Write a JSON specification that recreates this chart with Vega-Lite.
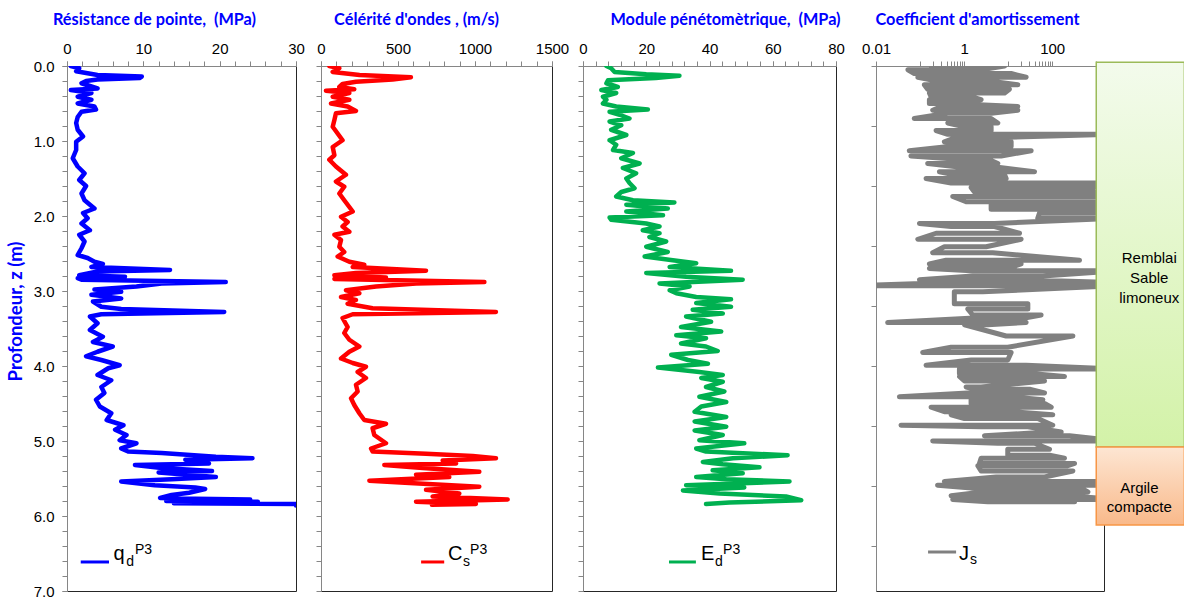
{
"$schema": "https://vega.github.io/schema/vega-lite/v6.json",
"background": "white",
"padding": {"left": 5, "top": 10, "right": 0, "bottom": 0},
"autosize": {"type": "pad"},
"config": {
  "view": {"stroke": "#262626", "strokeWidth": 1},
  "axis": {"grid": false, "domainColor": "#868686", "tickColor": "#868686", "tickSize": 5,
    "labelFont": "Liberation Sans", "labelFontSize": 15, "labelColor": "#000000",
    "labelOverlap": false, "labelFlush": false, "labelPadding": 8,
    "titleFont": "Lato", "titleFontWeight": "bold", "titleFontSize": 16.3, "titleColor": "#0000FF"}
},
"datasets": {
  "qd": [{"z":0,"v":0.5},{"z":0.03,"v":1.6},{"z":0.07,"v":1.2},{"z":0.12,"v":4},{"z":0.14,"v":9.8},{"z":0.16,"v":9.5},{"z":0.18,"v":4},{"z":0.2,"v":2.5},{"z":0.23,"v":1.9},{"z":0.3,"v":4},{"z":0.32,"v":0.5},{"z":0.36,"v":3.2},{"z":0.41,"v":1.4},{"z":0.45,"v":3.2},{"z":0.5,"v":1.4},{"z":0.54,"v":3.6},{"z":0.58,"v":3.8},{"z":0.61,"v":1.9},{"z":0.68,"v":1.4},{"z":0.76,"v":1.2},{"z":0.85,"v":1.4},{"z":0.94,"v":2.1},{"z":1.01,"v":1.2},{"z":1.12,"v":1.2},{"z":1.23,"v":0.75},{"z":1.34,"v":1.4},{"z":1.43,"v":2.3},{"z":1.52,"v":1.6},{"z":1.6,"v":2.5},{"z":1.7,"v":1.9},{"z":1.79,"v":2.3},{"z":1.9,"v":3.6},{"z":1.96,"v":2.1},{"z":2.03,"v":2.7},{"z":2.1,"v":1.9},{"z":2.19,"v":3},{"z":2.25,"v":1.6},{"z":2.34,"v":2.3},{"z":2.43,"v":1.9},{"z":2.52,"v":1.4},{"z":2.56,"v":2.7},{"z":2.61,"v":3.6},{"z":2.64,"v":4.7},{"z":2.68,"v":3.2},{"z":2.72,"v":13.5},{"z":2.74,"v":4},{"z":2.79,"v":1.6},{"z":2.81,"v":7.6},{"z":2.83,"v":1.4},{"z":2.85,"v":1.9},{"z":2.88,"v":20.8},{"z":2.9,"v":12.4},{"z":2.94,"v":9.1},{"z":2.98,"v":3.6},{"z":3.01,"v":7.1},{"z":3.05,"v":3.2},{"z":3.1,"v":7.1},{"z":3.14,"v":3.4},{"z":3.21,"v":4.5},{"z":3.24,"v":7.1},{"z":3.28,"v":20.6},{"z":3.31,"v":4.5},{"z":3.34,"v":3},{"z":3.43,"v":4},{"z":3.52,"v":3},{"z":3.61,"v":4.7},{"z":3.68,"v":3.4},{"z":3.74,"v":6},{"z":3.81,"v":4},{"z":3.87,"v":2.5},{"z":3.92,"v":4.5},{"z":3.99,"v":6.9},{"z":4.03,"v":5.4},{"z":4.12,"v":4},{"z":4.19,"v":5.8},{"z":4.28,"v":4.5},{"z":4.36,"v":4.9},{"z":4.45,"v":3.8},{"z":4.54,"v":4.3},{"z":4.63,"v":5.8},{"z":4.72,"v":5.2},{"z":4.79,"v":7.4},{"z":4.85,"v":6.3},{"z":4.92,"v":7.8},{"z":4.99,"v":6.9},{"z":5.03,"v":9.1},{"z":5.1,"v":7.1},{"z":5.14,"v":8},{"z":5.16,"v":12.4},{"z":5.21,"v":19.5},{"z":5.23,"v":24.3},{"z":5.25,"v":15.5},{"z":5.3,"v":18.6},{"z":5.32,"v":8.9},{"z":5.36,"v":12.4},{"z":5.4,"v":19},{"z":5.42,"v":12},{"z":5.48,"v":19.5},{"z":5.51,"v":13.7},{"z":5.54,"v":7.1},{"z":5.59,"v":11.5},{"z":5.62,"v":16.8},{"z":5.64,"v":18.1},{"z":5.69,"v":16},{"z":5.72,"v":13.7},{"z":5.76,"v":12.2},{"z":5.77,"v":16.8},{"z":5.78,"v":24},{"z":5.8,"v":13},{"z":5.81,"v":25},{"z":5.83,"v":14},{"z":5.84,"v":30},{"z":5.86,"v":30}],
  "cs": [{"z":0,"v":54},{"z":0.03,"v":119},{"z":0.08,"v":76},{"z":0.12,"v":250},{"z":0.15,"v":584},{"z":0.18,"v":465},{"z":0.21,"v":227},{"z":0.24,"v":140},{"z":0.28,"v":119},{"z":0.31,"v":216},{"z":0.33,"v":32},{"z":0.36,"v":184},{"z":0.41,"v":76},{"z":0.45,"v":184},{"z":0.5,"v":65},{"z":0.54,"v":173},{"z":0.6,"v":227},{"z":0.63,"v":97},{"z":0.72,"v":87},{"z":0.81,"v":76},{"z":0.9,"v":108},{"z":0.99,"v":140},{"z":1.08,"v":76},{"z":1.19,"v":87},{"z":1.25,"v":54},{"z":1.34,"v":97},{"z":1.45,"v":162},{"z":1.54,"v":97},{"z":1.61,"v":151},{"z":1.7,"v":119},{"z":1.79,"v":151},{"z":1.88,"v":184},{"z":1.94,"v":206},{"z":2.01,"v":130},{"z":2.08,"v":173},{"z":2.14,"v":140},{"z":2.21,"v":184},{"z":2.25,"v":87},{"z":2.32,"v":130},{"z":2.41,"v":119},{"z":2.48,"v":151},{"z":2.54,"v":108},{"z":2.61,"v":184},{"z":2.65,"v":281},{"z":2.68,"v":206},{"z":2.73,"v":682},{"z":2.76,"v":227},{"z":2.79,"v":87},{"z":2.82,"v":422},{"z":2.84,"v":87},{"z":2.88,"v":1061},{"z":2.9,"v":617},{"z":2.94,"v":357},{"z":2.99,"v":162},{"z":3.03,"v":249},{"z":3.08,"v":130},{"z":3.12,"v":227},{"z":3.17,"v":173},{"z":3.23,"v":335},{"z":3.28,"v":1136},{"z":3.31,"v":206},{"z":3.36,"v":140},{"z":3.48,"v":173},{"z":3.56,"v":151},{"z":3.65,"v":184},{"z":3.74,"v":249},{"z":3.81,"v":184},{"z":3.9,"v":130},{"z":3.96,"v":206},{"z":4.01,"v":292},{"z":4.08,"v":238},{"z":4.16,"v":292},{"z":4.25,"v":227},{"z":4.34,"v":238},{"z":4.43,"v":195},{"z":4.52,"v":216},{"z":4.63,"v":249},{"z":4.72,"v":281},{"z":4.77,"v":422},{"z":4.83,"v":335},{"z":4.92,"v":346},{"z":5.03,"v":422},{"z":5.1,"v":325},{"z":5.14,"v":335},{"z":5.17,"v":682},{"z":5.2,"v":985},{"z":5.23,"v":1136},{"z":5.26,"v":790},{"z":5.3,"v":877},{"z":5.32,"v":411},{"z":5.36,"v":660},{"z":5.41,"v":1028},{"z":5.45,"v":617},{"z":5.48,"v":833},{"z":5.53,"v":314},{"z":5.56,"v":574},{"z":5.61,"v":1028},{"z":5.65,"v":682},{"z":5.7,"v":898},{"z":5.74,"v":725},{"z":5.78,"v":1212},{"z":5.81,"v":617},{"z":5.84,"v":1006},{"z":5.85,"v":720}],
  "ed": [{"z":0,"v":7.4},{"z":0.03,"v":8.9},{"z":0.08,"v":10},{"z":0.11,"v":20},{"z":0.13,"v":30.5},{"z":0.16,"v":23},{"z":0.19,"v":7.9},{"z":0.23,"v":7.4},{"z":0.28,"v":11},{"z":0.32,"v":5.8},{"z":0.36,"v":10.5},{"z":0.41,"v":6.3},{"z":0.45,"v":7.4},{"z":0.5,"v":6.3},{"z":0.54,"v":10.5},{"z":0.58,"v":20.5},{"z":0.61,"v":8.4},{"z":0.65,"v":11.6},{"z":0.7,"v":14.7},{"z":0.74,"v":8.4},{"z":0.79,"v":12.1},{"z":0.85,"v":8.9},{"z":0.92,"v":13.7},{"z":0.99,"v":8.4},{"z":1.05,"v":10.5},{"z":1.12,"v":9.5},{"z":1.16,"v":15.8},{"z":1.23,"v":12.1},{"z":1.3,"v":17.9},{"z":1.36,"v":12.6},{"z":1.43,"v":16.8},{"z":1.5,"v":13.7},{"z":1.56,"v":14.7},{"z":1.63,"v":16.3},{"z":1.68,"v":12.1},{"z":1.74,"v":10.5},{"z":1.79,"v":15.8},{"z":1.82,"v":28.9},{"z":1.85,"v":13.7},{"z":1.9,"v":26.8},{"z":1.94,"v":13.7},{"z":1.99,"v":25.3},{"z":2.02,"v":8.4},{"z":2.05,"v":8.9},{"z":2.1,"v":20},{"z":2.14,"v":24.2},{"z":2.19,"v":18.9},{"z":2.23,"v":24.2},{"z":2.28,"v":21},{"z":2.34,"v":26.3},{"z":2.41,"v":20},{"z":2.48,"v":26.8},{"z":2.54,"v":19.5},{"z":2.59,"v":28.4},{"z":2.63,"v":35.8},{"z":2.68,"v":27.4},{"z":2.73,"v":46.8},{"z":2.76,"v":20},{"z":2.81,"v":32.6},{"z":2.85,"v":50.5},{"z":2.9,"v":24.2},{"z":2.94,"v":33.7},{"z":2.99,"v":27.4},{"z":3.03,"v":29.5},{"z":3.08,"v":35.8},{"z":3.11,"v":46.8},{"z":3.16,"v":35.8},{"z":3.21,"v":46.8},{"z":3.25,"v":34.7},{"z":3.3,"v":44.2},{"z":3.34,"v":32.6},{"z":3.41,"v":40.5},{"z":3.48,"v":31},{"z":3.54,"v":43.7},{"z":3.59,"v":29.5},{"z":3.63,"v":38.9},{"z":3.7,"v":31},{"z":3.74,"v":38.9},{"z":3.8,"v":42.6},{"z":3.85,"v":27.9},{"z":3.92,"v":33.2},{"z":3.97,"v":39.5},{"z":4.02,"v":23.7},{"z":4.08,"v":36.8},{"z":4.12,"v":44.2},{"z":4.16,"v":37.4},{"z":4.21,"v":44.2},{"z":4.28,"v":38.9},{"z":4.34,"v":44.7},{"z":4.41,"v":36.8},{"z":4.48,"v":45.3},{"z":4.54,"v":37.4},{"z":4.61,"v":35.3},{"z":4.68,"v":45.3},{"z":4.74,"v":35.3},{"z":4.81,"v":45.3},{"z":4.86,"v":35.3},{"z":4.92,"v":44.2},{"z":4.99,"v":36.8},{"z":5.03,"v":51},{"z":5.1,"v":35.8},{"z":5.14,"v":38.9},{"z":5.19,"v":64.7},{"z":5.23,"v":47.4},{"z":5.28,"v":37.9},{"z":5.31,"v":44.2},{"z":5.35,"v":55.8},{"z":5.39,"v":41},{"z":5.43,"v":50.5},{"z":5.48,"v":35.8},{"z":5.51,"v":45.3},{"z":5.54,"v":65.3},{"z":5.59,"v":32.6},{"z":5.62,"v":51},{"z":5.66,"v":31.6},{"z":5.7,"v":43.2},{"z":5.74,"v":64.2},{"z":5.79,"v":69},{"z":5.82,"v":46.3},{"z":5.84,"v":38.9}],
  "js": [{"z":0,"v":0.18},{"z":0,"v":8.3},{"z":0.05,"v":2.43},{"z":0.05,"v":0.053},{"z":0.1,"v":0.074},{"z":0.1,"v":11.7},{"z":0.15,"v":25.6},{"z":0.15,"v":0.089},{"z":0.21,"v":0.3},{"z":0.21,"v":4.89},{"z":0.25,"v":16.6},{"z":0.25,"v":0.125},{"z":0.31,"v":0.149},{"z":0.31,"v":10.7},{"z":0.36,"v":8.3},{"z":0.36,"v":0.163},{"z":0.41,"v":0.178},{"z":0.41,"v":1.44},{"z":0.45,"v":2.43},{"z":0.45,"v":0.163},{"z":0.5,"v":0.163},{"z":0.5,"v":0.507},{"z":0.54,"v":16.6},{"z":0.54,"v":0.3},{"z":0.59,"v":0.194},{"z":0.59,"v":16.6},{"z":0.63,"v":4.11},{"z":0.63,"v":0.426},{"z":0.7,"v":0.074},{"z":0.7,"v":4.11},{"z":0.76,"v":5.82},{"z":0.76,"v":0.426},{"z":0.81,"v":1.02},{"z":0.81,"v":4.11},{"z":0.86,"v":4.11},{"z":0.86,"v":0.231},{"z":0.91,"v":0.426},{"z":0.91,"v":3000},{"z":0.96,"v":2.05},{"z":0.96,"v":0.6},{"z":1.01,"v":0.357},{"z":1.01,"v":11.7},{"z":1.07,"v":11.7},{"z":1.07,"v":0.507},{"z":1.13,"v":0.057},{"z":1.13,"v":33.3},{"z":1.2,"v":6.93},{"z":1.2,"v":0.062},{"z":1.24,"v":0.6},{"z":1.24,"v":3.45},{"z":1.3,"v":5.82},{"z":1.3,"v":0.149},{"z":1.35,"v":0.855},{"z":1.35,"v":5.82},{"z":1.41,"v":39.7},{"z":1.41,"v":0.275},{"z":1.45,"v":0.6},{"z":1.45,"v":8.3},{"z":1.5,"v":9},{"z":1.5,"v":0.137},{"z":1.56,"v":0.507},{"z":1.56,"v":3000},{"z":1.62,"v":770},{"z":1.62,"v":1.44},{"z":1.68,"v":1.72},{"z":1.68,"v":3000},{"z":1.74,"v":3000},{"z":1.74,"v":0.552},{"z":1.81,"v":1.11},{"z":1.81,"v":3000},{"z":1.85,"v":916},{"z":1.85,"v":4.11},{"z":1.91,"v":4.11},{"z":1.91,"v":3000},{"z":1.96,"v":3000},{"z":1.96,"v":51.5},{"z":2.03,"v":47},{"z":2.03,"v":3000},{"z":2.1,"v":4.89},{"z":2.1,"v":0.097},{"z":2.14,"v":0.507},{"z":2.14,"v":4.89},{"z":2.23,"v":18.1},{"z":2.23,"v":0.231},{"z":2.31,"v":0.089},{"z":2.31,"v":19.7},{"z":2.41,"v":3.16},{"z":2.41,"v":0.357},{"z":2.49,"v":0.194},{"z":2.49,"v":4.48},{"z":2.59,"v":417},{"z":2.59,"v":0.39},{"z":2.64,"v":0.163},{"z":2.64,"v":19.7},{"z":2.7,"v":9.8},{"z":2.7,"v":0.163},{"z":2.73,"v":1.44},{"z":2.73,"v":3000},{"z":2.8,"v":61.4},{"z":2.8,"v":1.57},{"z":2.85,"v":0.097},{"z":2.85,"v":18.1},{"z":2.89,"v":3000},{"z":2.89,"v":0.357},{"z":2.93,"v":0.003},{"z":2.93,"v":3000},{"z":3.01,"v":2.66},{"z":3.01,"v":0.6},{"z":3.17,"v":0.6},{"z":3.17,"v":28},{"z":3.24,"v":28},{"z":3.24,"v":1.21},{"z":3.32,"v":1.57},{"z":3.32,"v":56},{"z":3.36,"v":23.6},{"z":3.36,"v":1.72},{"z":3.42,"v":0.0184},{"z":3.42,"v":25.6},{"z":3.45,"v":3.45},{"z":3.45,"v":1.02},{"z":3.6,"v":9},{"z":3.6,"v":295},{"z":3.75,"v":9.8},{"z":3.75,"v":0.507},{"z":3.82,"v":0.115},{"z":3.82,"v":11.7},{"z":3.92,"v":9.8},{"z":3.92,"v":1.44},{"z":3.99,"v":0.137},{"z":3.99,"v":25.6},{"z":4.04,"v":3000},{"z":4.04,"v":0.783},{"z":4.1,"v":0.783},{"z":4.1,"v":33.3},{"z":4.14,"v":190},{"z":4.14,"v":0.783},{"z":4.2,"v":1.02},{"z":4.2,"v":67},{"z":4.28,"v":2.43},{"z":4.28,"v":1.11},{"z":4.31,"v":1.87},{"z":4.31,"v":30.5},{"z":4.36,"v":67},{"z":4.36,"v":1.21},{"z":4.41,"v":0.034},{"z":4.41,"v":10.7},{"z":4.45,"v":61.4},{"z":4.45,"v":1.44},{"z":4.5,"v":1.44},{"z":4.5,"v":67},{"z":4.55,"v":95},{"z":4.55,"v":0.178},{"z":4.61,"v":0.357},{"z":4.61,"v":11.7},{"z":4.65,"v":103},{"z":4.65,"v":0.507},{"z":4.7,"v":1.02},{"z":4.7,"v":47},{"z":4.79,"v":103},{"z":4.79,"v":0.037},{"z":4.81,"v":2.43},{"z":4.81,"v":28},{"z":4.88,"v":160},{"z":4.88,"v":80},{"z":4.93,"v":2.9},{"z":4.93,"v":248},{"z":5,"v":3000},{"z":5,"v":0.194},{"z":5.03,"v":5.82},{"z":5.03,"v":39.7},{"z":5.11,"v":86.8},{"z":5.11,"v":9.8},{"z":5.19,"v":9.8},{"z":5.19,"v":86.8},{"z":5.23,"v":190},{"z":5.23,"v":2.43},{"z":5.3,"v":2.23},{"z":5.3,"v":322},{"z":5.33,"v":227},{"z":5.33,"v":2.05},{"z":5.4,"v":2.43},{"z":5.4,"v":295},{"z":5.48,"v":67},{"z":5.48,"v":5.34},{"z":5.54,"v":0.357},{"z":5.54,"v":3000},{"z":5.59,"v":3000},{"z":5.59,"v":0.25},{"z":5.63,"v":1.72},{"z":5.63,"v":457},{"z":5.68,"v":646},{"z":5.68,"v":2.66},{"z":5.73,"v":0.507},{"z":5.73,"v":227},{"z":5.78,"v":3000},{"z":5.78,"v":0.552},{"z":5.81,"v":3.45},{"z":5.81,"v":322}],
  "layers": [{"layer": "Remblai Sable limoneux", "top": -0.05, "bottom": 5.08},{"layer": "Argile compacte", "top": 5.08, "bottom": 6.12}]
},
"bounds": "full",
"spacing": 15,
"hconcat": [
 {"bounds": "full", "spacing": 7, "hconcat": [
  {"bounds": "flush", "spacing": 25, "hconcat": [
   {"width": 229, "height": 525, "resolve": {"axis": {"x": "independent", "y": "independent"}}, "layer": [
     {"data": {"name": "qd"},
      "mark": {"type": "line", "color": "#0000FF", "strokeWidth": 4.5, "strokeJoin": "round", "strokeCap": "round", "clip": true},
      "encoding": {
        "x": {"field": "v", "type": "quantitative", "scale": {"domain": [0, 30], "nice": false, "zero": false},
              "axis": {"orient": "top", "values": [0,10,20,30], "format": "d", "labelBaseline": "alphabetic",
                       "title": "Résistance de pointe,\u00a0 (MPa)", "titleX": 87, "titleY": -42, "titleBaseline": "alphabetic"}},
        "y": {"field": "z", "type": "quantitative", "scale": {"domain": [0, 7], "reverse": true, "nice": false, "zero": false},
              "axis": {"orient": "left", "values": [0,1,2,3,4,5,6,7], "format": ".1f", "labelBaseline": "middle",
                       "title": "Profondeur, z (m)", "titleX": -42, "titleY": 245, "titleFontSize": 18.5}},
        "order": {"value": null}}},
     {"data": {"values": [{}]}, "mark": {"type": "rule", "color": "#0000FF", "strokeWidth": 3},
      "encoding": {"x": {"datum": 1.8, "axis": {"orient": "top", "values": [0,2,4,6,8,10,12,14,16,18,20,22,24,26,28,30], "labels": false, "title": null}},
                   "x2": {"datum": 5.5},
                   "y": {"datum": 6.613, "axis": {"orient": "left", "values": [0,0.2,0.4,0.6,0.8,1,1.2,1.4,1.6,1.8,2,2.2,2.4,2.6,2.8,3,3.2,3.4,3.6,3.8,4,4.2,4.4,4.6,4.8,5,5.2,5.4,5.6,5.8,6,6.2,6.4,6.6,6.8,7], "labels": false, "title": null}}}},
     {"data": {"values": [{}]}, "mark": {"type": "text", "text": "q", "font": "Liberation Sans", "fontSize": 20, "align": "left", "baseline": "alphabetic", "color": "#000000"},
      "encoding": {"x": {"datum": 6.1, "axis": null}, "y": {"datum": 6.593, "axis": null}}},
     {"data": {"values": [{}]}, "mark": {"type": "text", "text": "d", "font": "Liberation Sans", "fontSize": 14, "align": "left", "baseline": "alphabetic", "color": "#000000"},
      "encoding": {"x": {"datum": 7.75, "axis": null}, "y": {"datum": 6.66, "axis": null}}},
     {"data": {"values": [{}]}, "mark": {"type": "text", "text": "P3", "font": "Liberation Sans", "fontSize": 14, "align": "left", "baseline": "alphabetic", "color": "#000000"},
      "encoding": {"x": {"datum": 8.9, "axis": null}, "y": {"datum": 6.513, "axis": null}}}
   ]},
   {"width": 231, "height": 525, "resolve": {"axis": {"x": "independent", "y": "independent"}}, "layer": [
     {"data": {"name": "cs"},
      "mark": {"type": "line", "color": "#FF0000", "strokeWidth": 4.5, "strokeJoin": "round", "strokeCap": "round", "clip": true},
      "encoding": {
        "x": {"field": "v", "type": "quantitative", "scale": {"domain": [0, 1500], "nice": false, "zero": false},
              "axis": {"orient": "top", "values": [0,500,1000,1500], "format": "d", "labelBaseline": "alphabetic",
                       "title": "Célérité d'ondes , (m/s)", "titleX": 95, "titleY": -42, "titleBaseline": "alphabetic"}},
        "y": {"field": "z", "type": "quantitative", "scale": {"domain": [0, 7], "reverse": true, "nice": false, "zero": false},
              "axis": {"orient": "left", "values": [0,0.2,0.4,0.6,0.8,1,1.2,1.4,1.6,1.8,2,2.2,2.4,2.6,2.8,3,3.2,3.4,3.6,3.8,4,4.2,4.4,4.6,4.8,5,5.2,5.4,5.6,5.8,6,6.2,6.4,6.6,6.8,7],
                       "labels": false, "title": null}},
        "order": {"value": null}}},
     {"data": {"values": [{}]}, "mark": {"type": "rule", "color": "#FF0000", "strokeWidth": 3},
      "encoding": {"x": {"datum": 650, "axis": {"orient": "top", "values": [0,100,200,300,400,500,600,700,800,900,1000,1100,1200,1300,1400,1500], "labels": false, "title": null}},
                   "x2": {"datum": 800}, "y": {"datum": 6.613, "axis": null}}},
     {"data": {"values": [{}]}, "mark": {"type": "text", "text": "C", "font": "Liberation Sans", "fontSize": 20, "align": "left", "baseline": "alphabetic", "color": "#000000"},
      "encoding": {"x": {"datum": 825, "axis": null}, "y": {"datum": 6.593, "axis": null}}},
     {"data": {"values": [{}]}, "mark": {"type": "text", "text": "s", "font": "Liberation Sans", "fontSize": 14, "align": "left", "baseline": "alphabetic", "color": "#000000"},
      "encoding": {"x": {"datum": 922, "axis": null}, "y": {"datum": 6.66, "axis": null}}},
     {"data": {"values": [{}]}, "mark": {"type": "text", "text": "P3", "font": "Liberation Sans", "fontSize": 14, "align": "left", "baseline": "alphabetic", "color": "#000000"},
      "encoding": {"x": {"datum": 968, "axis": null}, "y": {"datum": 6.513, "axis": null}}}
   ]}
  ]},
  {"width": 253, "height": 525, "resolve": {"axis": {"x": "independent", "y": "independent"}}, "layer": [
     {"data": {"name": "ed"},
      "mark": {"type": "line", "color": "#00B050", "strokeWidth": 4.5, "strokeJoin": "round", "strokeCap": "round", "clip": true},
      "encoding": {
        "x": {"field": "v", "type": "quantitative", "scale": {"domain": [0, 80], "nice": false, "zero": false},
              "axis": {"orient": "top", "values": [0,20,40,60,80], "format": "d", "labelBaseline": "alphabetic",
                       "title": "Module pénétomètrique,\u00a0 (MPa)", "titleX": 142, "titleY": -42, "titleBaseline": "alphabetic"}},
        "y": {"field": "z", "type": "quantitative", "scale": {"domain": [0, 7], "reverse": true, "nice": false, "zero": false},
              "axis": {"orient": "left", "values": [0,0.2,0.4,0.6,0.8,1,1.2,1.4,1.6,1.8,2,2.2,2.4,2.6,2.8,3,3.2,3.4,3.6,3.8,4,4.2,4.4,4.6,4.8,5,5.2,5.4,5.6,5.8,6,6.2,6.4,6.6,6.8,7],
                       "labels": false, "title": null}},
        "order": {"value": null}}},
     {"data": {"values": [{}]}, "mark": {"type": "rule", "color": "#00B050", "strokeWidth": 3},
      "encoding": {"x": {"datum": 27.2, "axis": {"orient": "top", "values": [0,4,8,12,16,20,24,28,32,36,40,44,48,52,56,60,64,68,72,76,80], "labels": false, "title": null}},
                   "x2": {"datum": 35.7}, "y": {"datum": 6.613, "axis": null}}},
     {"data": {"values": [{}]}, "mark": {"type": "text", "text": "E", "font": "Liberation Sans", "fontSize": 20, "align": "left", "baseline": "alphabetic", "color": "#000000"},
      "encoding": {"x": {"datum": 37.3, "axis": null}, "y": {"datum": 6.593, "axis": null}}},
     {"data": {"values": [{}]}, "mark": {"type": "text", "text": "d", "font": "Liberation Sans", "fontSize": 14, "align": "left", "baseline": "alphabetic", "color": "#000000"},
      "encoding": {"x": {"datum": 41.7, "axis": null}, "y": {"datum": 6.66, "axis": null}}},
     {"data": {"values": [{}]}, "mark": {"type": "text", "text": "P3", "font": "Liberation Sans", "fontSize": 14, "align": "left", "baseline": "alphabetic", "color": "#000000"},
      "encoding": {"x": {"datum": 44.3, "axis": null}, "y": {"datum": 6.513, "axis": null}}}
  ]}
 ]},
 {"width": 228, "height": 525, "layer": [
     {"data": {"name": "js"},
      "mark": {"type": "line", "color": "#808080", "strokeWidth": 5, "strokeJoin": "round", "strokeCap": "round", "clip": true},
      "encoding": {
        "x": {"field": "v", "type": "quantitative", "scale": {"type": "log", "domain": [0.01, 1500], "nice": false, "zero": false},
              "axis": {"orient": "top", "values": [0.01,0.1,0.2,0.3,0.4,0.5,0.6,0.7,0.8,0.9,1,10,20,30,40,50,60,70,80,90,100,1000], "labelOverlap": false,
                       "labelExpr": "datum.value == 0.01 ? '0.01' : (datum.value == 1 ? '1' : (datum.value == 100 ? '100' : ''))", "labelBaseline": "alphabetic",
                       "title": "Coefficient d'amortissement", "titleX": 101, "titleY": -42, "titleBaseline": "alphabetic"}},
        "y": {"field": "z", "type": "quantitative", "scale": {"domain": [0, 7], "reverse": true, "nice": false, "zero": false},
              "axis": {"values": [0,0.2,0.4,0.6,0.8,1,1.2,1.4,1.6,1.8,2,2.2,2.4,2.6,2.8,3,3.2,3.4,3.6,3.8,4,4.2,4.4,4.6,4.8,5,5.2,5.4,5.6,5.8,6,6.2,6.4,6.6,6.8,7],
                       "labels": false, "title": null}},
        "order": {"value": null}}},
     {"data": {"values": [{}]}, "mark": {"type": "rule", "color": "#808080", "strokeWidth": 3},
      "encoding": {"x": {"datum": 0.152}, "x2": {"datum": 0.658}, "y": {"datum": 6.48}}},
     {"data": {"values": [{}]}, "mark": {"type": "text", "text": "J", "font": "Liberation Sans", "fontSize": 20, "align": "left", "baseline": "alphabetic", "color": "#000000"},
      "encoding": {"x": {"datum": 0.77}, "y": {"datum": 6.587}}},
     {"data": {"values": [{}]}, "mark": {"type": "text", "text": "s", "font": "Liberation Sans", "fontSize": 14, "align": "left", "baseline": "alphabetic", "color": "#000000"},
      "encoding": {"x": {"datum": 1.37}, "y": {"datum": 6.64}}},
     {"data": {"name": "layers"}, "transform": [{"filter": "datum.layer == 'Remblai Sable limoneux'"}],
      "mark": {"type": "rect", "stroke": "#9BBB59", "strokeWidth": 1.5,
               "color": {"gradient": "linear", "x1": 0, "y1": 0, "x2": 0, "y2": 1, "stops": [{"offset": 0, "color": "#F3FBEC"}, {"offset": 1, "color": "#D3F2A8"}]}},
      "encoding": {"x": {"datum": 1000}, "x2": {"datum": 100000}, "y": {"field": "top", "type": "quantitative"}, "y2": {"field": "bottom"}}},
     {"data": {"name": "layers"}, "transform": [{"filter": "datum.layer == 'Argile compacte'"}],
      "mark": {"type": "rect", "stroke": "#F79646", "strokeWidth": 1.5,
               "color": {"gradient": "linear", "x1": 0, "y1": 0, "x2": 0, "y2": 1, "stops": [{"offset": 0, "color": "#FDE6D3"}, {"offset": 1, "color": "#F9B98A"}]}},
      "encoding": {"x": {"datum": 1000}, "x2": {"datum": 100000}, "y": {"field": "top", "type": "quantitative"}, "y2": {"field": "bottom"}}},
     {"data": {"values": [{}]}, "mark": {"type": "text", "text": ["Remblai", "Sable", "limoneux"], "font": "Liberation Sans", "fontSize": 15, "lineHeight": 20, "align": "center", "baseline": "middle", "color": "#000000"},
      "encoding": {"x": {"datum": 16000}, "y": {"datum": 2.56}}},
     {"data": {"values": [{}]}, "mark": {"type": "text", "text": ["Argile", "compacte"], "font": "Liberation Sans", "fontSize": 15, "lineHeight": 19, "align": "center", "baseline": "middle", "color": "#000000"},
      "encoding": {"x": {"datum": 9500}, "y": {"datum": 5.62}}}
 ]}
]
}
